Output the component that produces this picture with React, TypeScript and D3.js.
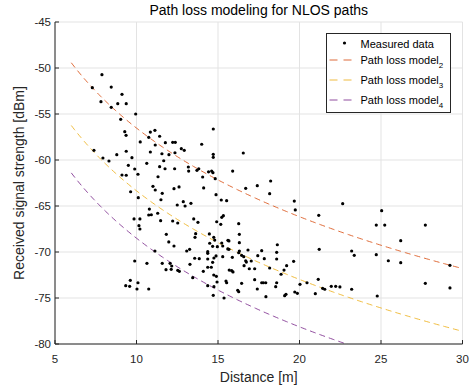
import React from "react";
import * as d3 from "d3";

// Measured data: distance [m] and received signal strength [dBm]
const distance: number[] = [
  7.88, 7.29, 8.45, 9.11, 7.82, 8.85, 9.37, 8.45, 9.95, 9.03,
  9.28, 9.36, 10.85, 11.13, 11.42, 10.75, 10.23, 11.77, 12.22, 12.38,
  11.15, 14.0, 12.75, 12.93, 7.39, 9.37, 10.85, 11.56, 11.99, 12.36,
  8.79, 7.94, 8.31, 9.72, 11.67, 10.63, 9.5, 11.42, 11.75, 12.34,
  13.18, 13.2, 13.71, 13.82, 14.42, 9.89, 10.09, 9.11, 9.37, 11.32,
  14.06, 11.01, 11.15, 11.58, 12.3, 12.61, 14.12, 9.64, 10.11, 11.5,
  12.87, 12.5, 12.98, 13.34, 10.79,
  14.71, 14.71, 14.71, 16.55, 14.61, 14.69, 14.83, 15.9,
  9.85, 10.21, 10.75, 10.91, 11.3, 11.48, 10.15, 10.21, 12.22, 12.53,
  13.51, 13.77, 11.83, 11.98, 12.3, 13.63, 13.59, 14.47, 13.08, 13.26,
  11.13, 14.37, 14.37, 9.89, 10.64, 11.58, 12.06, 12.16, 13.57, 13.85,
  14.37, 13.28, 11.81, 12.13, 12.53, 12.63, 14.1, 13.45, 14.37, 9.62,
  10.09, 9.34, 9.58, 10.03, 10.75,
  14.88, 16.7, 17.41, 18.23, 18.17, 15.2, 15.53, 19.68, 19.74, 21.18,
  14.92, 15.17, 15.23, 15.33, 16.27, 14.74, 14.8, 16.31, 15.23, 15.61,
  15.67, 16.31, 14.49, 14.67, 14.96, 15.29, 18.64, 15.6, 15.67, 16.31,
  16.84, 17.68, 18.6, 14.75, 14.88, 15.29, 15.88, 16.27, 16.45, 16.58,
  17.04, 17.44, 17.84, 18.6, 19.64, 16.7, 16.74, 14.37, 14.59, 16.6,
  16.92, 17.25, 18.17, 19.05, 19.21, 18.87, 14.67, 14.74, 14.9, 15.69,
  15.84, 15.92, 15.49, 15.53, 16.45, 17.25, 17.68, 17.78, 17.93, 18.54,
  18.6, 17.41, 16.27, 16.21, 14.94, 14.75, 14.71, 15.37, 17.94, 19.09,
  19.17, 19.71, 19.87, 20.46, 21.15, 20.97, 21.42, 21.55, 21.21,
  22.65, 25.04, 24.71, 25.23, 27.72, 26.21, 23.2, 23.36, 24.71, 25.45,
  26.21, 29.23, 20.03, 21.95, 22.22, 22.48, 23.2, 24.77, 27.72, 29.23,
];

const signal: number[] = [
  -50.73, -52.14, -52.07, -52.86, -53.66, -53.88, -53.88, -54.27, -55.0, -55.58,
  -56.92, -57.32, -56.96, -56.77, -57.42, -57.53, -58.04, -58.12, -58.08, -58.08,
  -58.37, -58.29, -58.77, -58.95, -58.95, -59.05, -59.13, -59.32, -59.42, -59.21,
  -59.42, -59.78, -60.11, -59.75, -60.08, -60.36, -60.58, -60.73, -60.95, -60.95,
  -60.76, -61.2, -61.12, -60.95, -61.28, -60.98, -61.55, -61.63, -61.66, -61.82,
  -61.85, -62.86, -63.26, -63.62, -63.12, -62.93, -63.04, -63.45, -64.1, -64.32,
  -64.53, -64.89, -65.0, -64.71, -65.33,
  -56.63, -59.38, -59.71, -59.24, -61.2, -61.38, -62.03, -61.2,
  -66.41, -66.41, -65.98, -65.95, -65.79, -66.6, -67.14, -67.5, -66.63, -66.85,
  -66.41, -66.77, -68.08, -68.91, -69.35, -68.01, -68.4, -68.04, -69.89, -69.71,
  -69.89, -69.97, -70.14, -70.98, -71.23, -71.23, -71.23, -71.52, -70.68, -70.73,
  -70.76, -71.34, -71.92, -71.88, -71.99, -72.1, -72.1, -72.79, -73.66, -73.08,
  -73.34, -73.66, -73.73, -74.02, -74.02,
  -63.77, -63.08, -62.79, -62.28, -63.66, -64.35, -64.42, -64.46, -65.43, -66.01,
  -66.71, -66.99, -66.23, -66.05, -66.92, -68.4, -68.7, -68.08, -69.02, -68.73,
  -68.8, -68.99, -69.05, -69.38, -69.42, -69.35, -69.21, -69.67, -69.71, -69.89,
  -69.78, -69.86, -70.03, -70.65, -70.43, -70.51, -70.58, -70.08, -70.36, -70.51,
  -70.98, -70.4, -70.73, -70.76, -71.01, -70.95, -71.09, -71.66, -71.66, -71.49,
  -71.82, -71.82, -71.74, -71.96, -71.49, -72.42, -71.12, -72.5, -72.64, -71.96,
  -72.03, -72.17, -73.15, -73.34, -73.4, -73.01, -73.34, -73.34, -73.34, -73.77,
  -73.34, -74.02, -74.32, -74.16, -73.26, -73.77, -74.71, -75.0, -74.86, -74.75,
  -74.6, -74.35, -74.49, -73.34, -72.97, -74.53, -73.95, -74.05, -69.71,
  -64.75, -65.51, -67.07, -67.07, -67.07, -68.77, -69.89, -70.36, -70.29, -70.95,
  -71.16, -71.45, -73.51, -73.73, -73.73, -73.8, -74.05, -74.78, -73.4, -73.91,
];

// Path loss models: P(d) = P0 - 10 n log10(d)
const modelSubscripts: string[] = ["2", "3", "4"];
const modelP0: number[] = [-24.53, -31.35, -36.5];
const modelExponent: number[] = [3.2, 3.2, 3.2];
const modelColors: string[] = ["#D95319", "#EDB120", "#7E2F8E"];
const modelRange: number[] = [6, 30];

const xTicks: number[] = [5, 10, 15, 20, 25, 30];
const yTicks: number[] = [-80, -75, -70, -65, -60, -55, -50, -45];

const W = 474;
const H = 386;
const L = 55;
const R = 462.5;
const T = 22;
const B = 344;
const FONT = "'Liberation Sans', Arial, Helvetica, sans-serif";
const AX = "#262626";

export default function App() {
  const x = d3.scaleLinear().domain([5, 30]).range([L, R]);
  const y = d3.scaleLinear().domain([-80, -45]).range([B, T]);

  const ds = d3.range(modelRange[0], modelRange[1] + 0.001, 0.1);
  const paths = modelP0.map((p0, i) =>
    d3
      .line<number>()
      .x((d) => x(d))
      .y((d) => y(p0 - 10 * modelExponent[i] * Math.log10(d)))(ds)
  );

  const legX = 326.5;
  const legY = 33.5;
  const legW = 124;
  const legH = 79;
  const rows = [44, 61, 81, 101];

  return (
    <svg
      width={W}
      height={H}
      style={{ position: "absolute", left: 0, top: 0, background: "#fff" }}
      fontFamily={FONT}
    >
      <defs>
        <clipPath id="plotclip">
          <rect x={L} y={T} width={R - L} height={B - T} />
        </clipPath>
      </defs>
      <rect x={0} y={0} width={W} height={H} fill="#fff" />
      {/* grid */}
      <g stroke="#e3e3e3" strokeWidth={1}>
        {xTicks.map((t) => (
          <line key={"gx" + t} x1={x(t)} x2={x(t)} y1={T} y2={B} />
        ))}
        {yTicks.map((t) => (
          <line key={"gy" + t} x1={L} x2={R} y1={y(t)} y2={y(t)} />
        ))}
      </g>
      {/* model curves */}
      <g clipPath="url(#plotclip)" fill="none">
        {paths.map((p, i) => (
          <path
            key={"m" + i}
            d={p || ""}
            stroke={modelColors[i]}
            strokeWidth={1}
            strokeDasharray="6,4"
            opacity={0.85}
          />
        ))}
      </g>
      {/* data */}
      <g fill="#000">
        {distance.map((d, i) => (
          <circle key={"p" + i} cx={x(d)} cy={y(signal[i])} r={1.6} />
        ))}
      </g>
      {/* axes */}
      <g stroke={AX} strokeWidth={1} fill="none">
        <line x1={L} x2={R} y1={B} y2={B} />
        <line x1={L} x2={L} y1={T} y2={B} />
        {xTicks.map((t) => (
          <line key={"tx" + t} x1={x(t)} x2={x(t)} y1={B} y2={B - 4} />
        ))}
        {yTicks.map((t) => (
          <line key={"ty" + t} x1={L} x2={L + 4} y1={y(t)} y2={y(t)} />
        ))}
      </g>
      <g fill={AX} fontSize={11.5}>
        {xTicks.map((t) => (
          <text key={"lx" + t} x={x(t)} y={363} textAnchor="middle">
            {t}
          </text>
        ))}
        {yTicks.map((t) => (
          <text key={"ly" + t} x={51} y={y(t) + 4} textAnchor="end">
            {t}
          </text>
        ))}
      </g>
      <text x={(L + R) / 2} y={382} textAnchor="middle" fontSize={14} fill={AX}>
        Distance [m]
      </text>
      <text
        transform={`translate(23.5,${(T + B) / 2}) rotate(-90)`}
        textAnchor="middle"
        fontSize={14}
        fill={AX}
      >
        Received signal strength [dBm]
      </text>
      <text x={(L + R) / 2} y={15} textAnchor="middle" fontSize={14} fill="#000">
        Path loss modeling for NLOS paths
      </text>
      {/* legend */}
      <rect x={legX} y={legY} width={legW} height={legH} fill="#fff" stroke={AX} strokeWidth={1} />
      <circle cx={344.5} cy={rows[0] - 1} r={1.6} fill="#000" />
      <text x={360.5} y={rows[0] + 3.5} fontSize={11} fill="#000">
        Measured data
      </text>
      {modelSubscripts.map((s, i) => (
        <g key={"lg" + i}>
          <line
            x1={329.5}
            x2={354.5}
            y1={rows[i + 1] - 1}
            y2={rows[i + 1] - 1}
            stroke={modelColors[i]}
            strokeWidth={1}
            strokeDasharray="8,6"
            opacity={0.85}
          />
          <text x={360.5} y={rows[i + 1] + 3} fontSize={11} fill="#000">
            Path loss model
            <tspan fontSize={8} dy={4}>
              {s}
            </tspan>
          </text>
        </g>
      ))}
    </svg>
  );
}
